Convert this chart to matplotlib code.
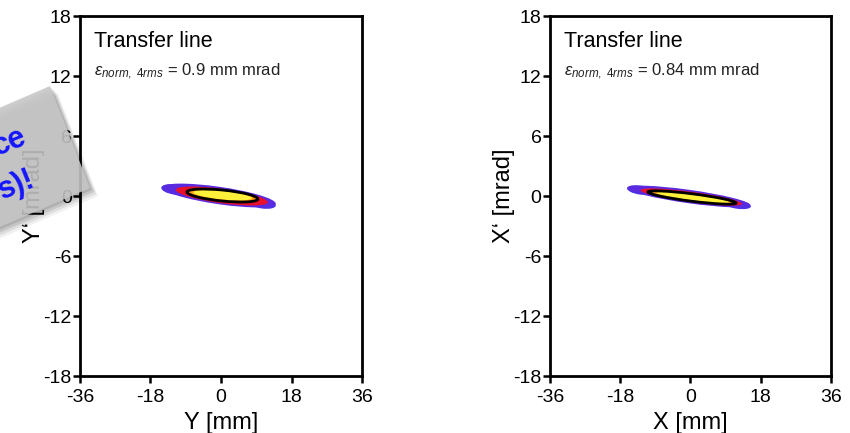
import numpy as np
import matplotlib
matplotlib.use("Agg")
import matplotlib.pyplot as plt
from matplotlib.patches import Ellipse, Polygon

plt.rcParams['font.family'] = ['Liberation Sans', 'DejaVu Sans']
plt.rcParams['mathtext.fontset'] = 'custom'
plt.rcParams['mathtext.it'] = 'Liberation Sans:italic'
plt.rcParams['mathtext.rm'] = 'Liberation Sans'
plt.rcParams['axes.unicode_minus'] = False

# axis ticks
x_ticks = [-36, -18, 0, 18, 36]
y_ticks = [-18, -12, -6, 0, 6, 12, 18]

# panel texts
x_labels = ['Y [mm]', 'X [mm]']
y_labels = ['Y\u2018 [mrad]', 'X\u2018 [mrad]']
emittance = ['0.9', '0.84']

# beam density layers, outer to inner: center (x, x'), width, height, angle (deg, data space)
layer_colors = ['#5a2ae0', '#e8102a', '#ff9a10', '#fff13a']
y_layers = [
    [(-0.5, 0.05), 29.0, 1.75, -3.2],
    [(0.2, 0.0), 23.5, 1.45, -3.0],
    [(0.3, 0.05), 18.5, 1.15, -2.4],
    [(0.4, 0.08), 15.0, 0.85, -2.2],
]
x_layers = [
    [(-0.4, -0.05), 31.5, 1.35, -3.1],
    [(0.2, -0.1), 26.0, 1.05, -3.0],
    [(0.4, -0.15), 22.0, 0.8, -2.8],
    [(0.6, -0.15), 18.5, 0.55, -2.8],
]
# halo tails (purple) at both ends of the beam
y_tails = [[(-12.0, 0.65), 6.5, 1.0, -3.0], [(10.5, -0.75), 7.0, 1.0, -3.0]]
x_tails = [[(-13.0, 0.6), 6.5, 0.9, -3.0], [(12.0, -0.85), 7.0, 0.85, -3.0]]
# rms ellipse (black outline)
y_rms = [(0.35, 0.05), 18.1, 1.1, -2.2]
x_rms = [(0.4, -0.15), 22.6, 0.75, -2.8]

fig = plt.figure(figsize=(8.5, 4.33), dpi=100)
ax_pos = [[0.0941, 0.1316, 0.3318, 0.8314], [0.647, 0.1316, 0.3306, 0.8314]]

panels = [(y_layers, y_tails, y_rms), (x_layers, x_tails, x_rms)]
for i, (layers, tails, rms) in enumerate(panels):
    ax = fig.add_axes(ax_pos[i])
    for c, w, h, a in tails:
        ax.add_patch(Ellipse(c, w, h, angle=a, facecolor='#4a34e8', edgecolor='none'))
    for (c, w, h, a), col in zip(layers, layer_colors):
        ax.add_patch(Ellipse(c, w, h, angle=a, facecolor=col, edgecolor='none'))
    c, w, h, a = rms
    ax.add_patch(Ellipse(c, w, h, angle=a, facecolor='none', edgecolor='black', lw=2))

    ax.set_xlim(-36, 36)
    ax.set_ylim(-18, 18)
    ax.set_xticks(x_ticks)
    ax.set_yticks(y_ticks)
    ax.tick_params(direction='out', length=5, width=1.8, labelsize=14, pad=1,
                   top=False, right=False)
    ax.tick_params(axis='x', pad=4)
    for s in ax.spines.values():
        s.set_linewidth(2)
    ax.set_xlabel(x_labels[i], fontsize=17, labelpad=0)
    ax.set_ylabel(y_labels[i], fontsize=17)
    ax.xaxis.set_label_coords(0.5, -0.10)
    ax.yaxis.set_label_coords(-0.125, 0.5)

    ax.text(0.05, 0.928, 'Transfer line', transform=ax.transAxes,
            fontsize=15.5, va='center', ha='left')
    ax.text(0.05, 0.845, r'$\varepsilon_{norm,\ 4rms}$ = ' + emittance[i] + ' mm mrad',
            transform=ax.transAxes, fontsize=12, va='center', ha='left', color='#222222')

# overlay sticker, cut off at the left edge
ov = fig.add_axes([0, 0, 1, 1], zorder=10)
ov.set_xlim(0, 850)
ov.set_ylim(433, 0)
ov.axis('off')
ov.patch.set_alpha(0)

corners = np.array([[50, 86], [90, 188], [-95, 268], [-135, 166]])
for k, al in enumerate([0.10, 0.10, 0.08, 0.06]):
    off = 2 + 2 * k
    ov.add_patch(Polygon(corners + [off, off], closed=True, facecolor='black',
                         edgecolor='none', alpha=al))
ov.add_patch(Polygon(corners, closed=True, facecolor='#c6c6c6', edgecolor='none', alpha=0.88))
ov.text(28, 143, 'ce', color='#1515ff', fontsize=22, fontweight='bold', rotation=22,
        rotation_mode='anchor', ha='right', va='baseline')
ov.text(37, 186, 's)!', color='#1515ff', fontsize=22, fontweight='bold', rotation=22,
        rotation_mode='anchor', ha='right', va='baseline')

fig.savefig('out.png', dpi=100)
